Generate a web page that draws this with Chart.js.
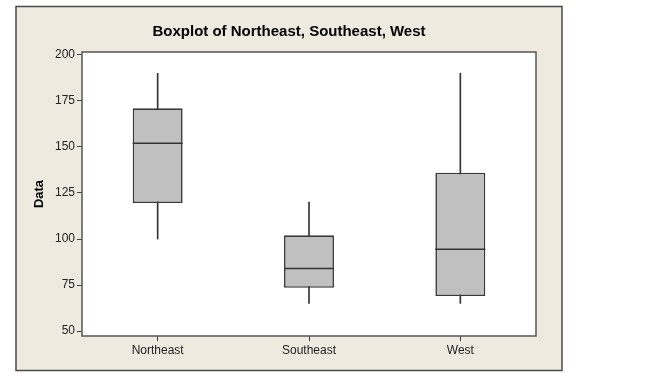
<!DOCTYPE html>
<html>
<head>
<meta charset="utf-8">
<script src="https://cdn.jsdelivr.net/npm/chart.js@4/dist/chart.umd.min.js"></script>
<style>
html,body{margin:0;padding:0;background:#fff;}
canvas{display:block;}
</style>
</head>
<body>
<canvas id="c" width="650" height="382"></canvas>
<script>
// ---- data ----
const categories = ['Northeast', 'Southeast', 'West'];
const whiskerLow = [100, 65, 65];
const q1 = [119.5, 73.5, 69];
const median = [152, 84, 94.5];
const q3 = [171, 102, 136];
const whiskerHigh = [190, 120, 190];
const yTicks = [50, 75, 100, 125, 150, 175, 200];
const chartTitle = 'Boxplot of Northeast, Southeast, West';
const yTitle = 'Data';

const boxData = categories.map((_, i) => [q1[i], q3[i]]);
const whiskerData = categories.map((_, i) => [whiskerLow[i], whiskerHigh[i]]);

const FONT = '"Liberation Sans", Arial, sans-serif';

const framePlugin = {
  id: 'frame',
  beforeDraw(chart) {
    const ctx = chart.ctx;
    const a = chart.chartArea;
    ctx.save();
    ctx.fillStyle = '#ffffff';
    ctx.fillRect(0, 0, chart.width, chart.height);
    // outer beige panel
    ctx.fillStyle = '#EEEAE0';
    ctx.fillRect(16, 6.5, 546, 364);
    ctx.strokeStyle = '#4a4a4a';
    ctx.lineWidth = 1.5;
    ctx.strokeRect(16, 6.5, 546, 364);
    // plot area
    ctx.fillStyle = '#ffffff';
    ctx.fillRect(a.left, a.top, a.right - a.left, a.bottom - a.top);
    // title
    ctx.fillStyle = '#000';
    ctx.font = 'bold 15px ' + FONT;
    ctx.textAlign = 'center';
    ctx.textBaseline = 'middle';
    ctx.fillText(chartTitle, 289, 32);
    ctx.restore();
  },
  afterDraw(chart) {
    const ctx = chart.ctx;
    const a = chart.chartArea;
    ctx.save();
    ctx.strokeStyle = '#555555';
    ctx.lineWidth = 1.5;
    ctx.strokeRect(a.left, a.top, a.right - a.left, a.bottom - a.top);
    ctx.restore();
  }
};

new Chart(document.getElementById('c'), {
  type: 'bar',
  data: {
    labels: categories,
    datasets: [
      {
        type: 'line',
        label: 'Median',
        data: median,
        showLine: false,
        pointStyle: 'line',
        pointRadius: 25,
        pointHoverRadius: 25,
        borderColor: '#333333',
        borderWidth: 1.5,
        order: 1
      },
      {
        label: 'Box',
        data: boxData,
        backgroundColor: '#C0C0C0',
        borderColor: '#383838',
        borderWidth: 1.6,
        borderSkipped: false,
        categoryPercentage: 1,
        barPercentage: 0.33,
        grouped: false,
        order: 2
      },
      {
        label: 'Whisker',
        data: whiskerData,
        backgroundColor: '#333333',
        borderWidth: 0,
        barThickness: 1,
        grouped: false,
        order: 3
      }
    ]
  },
  options: {
    responsive: false,
    animation: false,
    devicePixelRatio: 1,
    layout: { padding: { left: 16, right: 114, top: 52, bottom: 12 } },
    plugins: {
      legend: { display: false },
      tooltip: { enabled: false },
      title: { display: false }
    },
    scales: {
      x: {
        offset: true,
        grid: { drawOnChartArea: false, offset: false, tickLength: 5, color: '#444', lineWidth: 1 },
        border: { display: false },
        ticks: { color: '#222', font: { family: FONT, size: 12 }, padding: 2, maxRotation: 0 },
        afterFit(scale) { scale.height = 34; }
      },
      y: {
        min: 47.3,
        max: 201.6,
        grid: { drawOnChartArea: false, tickLength: 5, color: '#444', lineWidth: 1 },
        border: { display: false },
        ticks: { color: '#222', font: { family: FONT, size: 12 }, padding: 2 },
        afterBuildTicks(scale) { scale.ticks = yTicks.map(v => ({ value: v })); },
        title: {
          display: true,
          text: yTitle,
          color: '#000',
          font: { family: FONT, size: 13, weight: 'bold' },
          padding: { top: 16, bottom: 0 }
        },
        afterFit(scale) { scale.width = 66; }
      }
    }
  },
  plugins: [framePlugin]
});
</script>
</body>
</html>
